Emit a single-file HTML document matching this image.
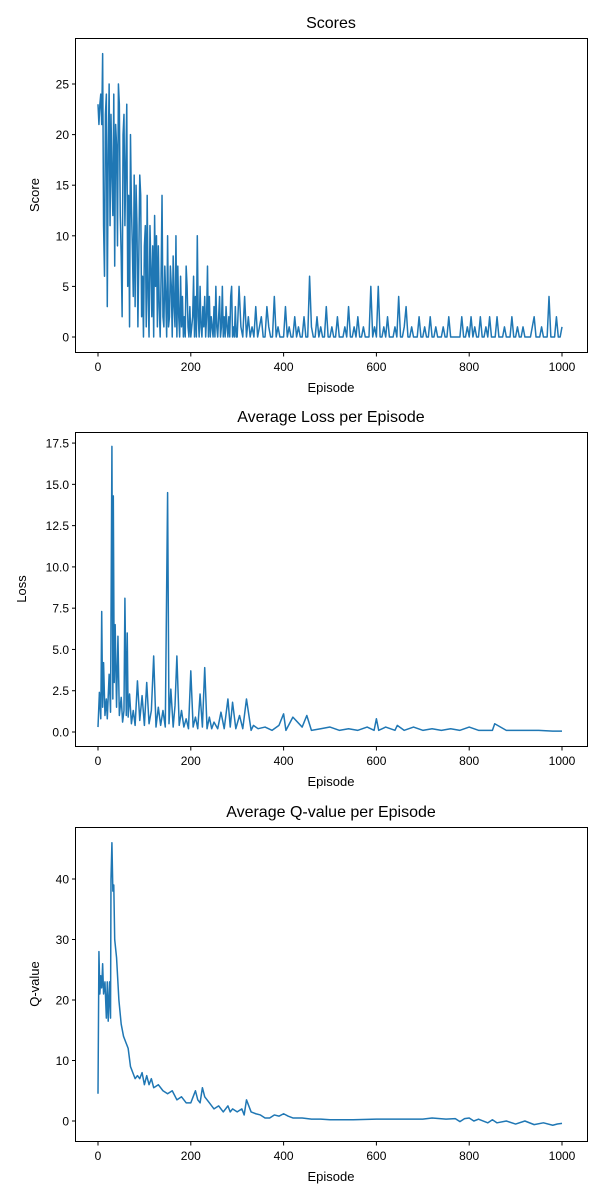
<!DOCTYPE html>
<html><head><meta charset="utf-8"><style>
body{margin:0;background:#fff;font-family:"Liberation Sans","DejaVu Sans",sans-serif}
svg{display:block}
</style></head><body>
<svg id="fig" width="600" height="1200" viewBox="0 0 600 1200" font-family="Liberation Sans, DejaVu Sans, sans-serif"></svg>
<script>
// ---- data ----
const earlyScores = [
23,21,23,24,21,28,11,6,22,24,3,18,25,11,22,16,12,24,7,21,19,9,25,23,12,
8,2,20,22,11,17,23,5,14,1,20,13,9,4,16,3,15,11,1,8,16,14,2,6,0,
9,11,1,14,4,0,11,7,2,9,0,12,5,10,1,9,3,0,6,14,2,1,7,4,0,
10,1,2,7,5,0,8,3,1,10,0,7,2,0,6,1,4,0,2,0,7,5,1,0,3,
0,1,2,6,0,4,0,10,2,0,5,1,0,3,1,4,0,2,7,0,4,0,2,1,0,
3,0,5,1,0,2,4,0,1,5,0,2,0,3,1,0,2,0,4,5,0,1,0,3,0];
const earlyStep = 2;
const lateScores = [
0,5,1,0,4,0,2,0,1,0,3,0,1,2,0,0,3,1,0,0,4,0,1,0,0,
0,3,0,1,0,0,2,0,1,0,0,2,0,0,6,1,0,0,2,0,1,0,0,3,0,
0,1,0,0,2,0,0,0,1,0,3,0,0,1,0,2,0,0,1,0,0,0,5,0,1,
0,5,0,0,1,0,2,0,0,0,1,0,4,0,0,1,3,0,0,1,0,0,0,2,0,
0,1,0,0,2,0,0,1,0,0,0,1,0,0,2,0,0,0,0,0,0,2,0,0,1,
0,2,0,1,0,0,2,0,0,1,0,2,0,0,0,2,0,0,0,1,0,0,0,2,0,
0,1,0,0,1,0,0,0,0,1,2,0,0,0,1,0,0,0,4,0,0,0,2,0,0,1];
const lateStart = 300, lateStep = 4;
const lossEpisodes = [0,3,6,8,10,12,15,18,20,24,27,30,32,33,35,37,40,43,46,50,53,56,58,61,63,65,68,72,76,80,85,90,95,100,105,110,115,120,125,130,135,140,145,150,153,157,162,166,170,175,180,185,190,195,200,205,210,215,220,225,230,235,240,245,250,258,265,272,280,285,290,297,305,312,320,330,335,345,360,375,390,400,405,420,440,450,460,480,500,520,540,560,580,595,600,605,620,640,645,660,680,700,720,740,760,780,800,820,850,855,880,900,920,950,980,1000];
const lossValues = [0.3,2.4,0.8,7.3,1.5,4.2,1.0,2.0,0.8,3.5,1.2,17.3,2.0,14.3,3.0,6.5,1.5,5.8,1.0,2.1,0.6,1.3,8.1,1.0,6.0,0.9,2.3,0.5,1.3,0.4,3.1,0.7,2.2,0.4,3.0,0.5,1.3,4.6,0.3,1.5,0.4,1.3,0.3,14.5,0.5,2.6,0.3,1.6,4.6,0.4,1.3,0.3,0.8,0.2,3.7,0.3,0.9,0.2,2.3,0.3,3.9,0.2,0.9,0.2,0.6,0.2,1.2,0.2,2.0,0.3,1.8,0.2,1.0,0.2,2.0,0.1,0.4,0.2,0.3,0.1,0.4,1.1,0.1,0.9,0.3,1.0,0.1,0.2,0.3,0.1,0.2,0.1,0.3,0.1,0.8,0.1,0.3,0.1,0.4,0.1,0.3,0.1,0.2,0.1,0.2,0.1,0.3,0.1,0.1,0.5,0.1,0.1,0.1,0.1,0.05,0.05];
const qEpisodes = [0,2,4,6,8,10,12,15,18,20,22,25,27,28,30,32,34,36,40,45,50,55,60,65,70,75,80,85,90,95,100,105,110,115,120,130,140,150,160,170,180,190,200,205,210,215,220,225,230,240,250,260,270,280,285,290,300,310,315,320,330,340,350,360,370,380,390,400,410,420,440,460,480,500,550,600,650,700,720,750,770,780,790,800,810,820,840,850,860,880,900,920,940,960,980,990,1000];
const qValues = [4.5,28,21,24,22,26,21,23,17,23,16.5,23,17,40,46,38,39,30,27,20,16,14,13,12,9,8,7,7.5,7,8,6,7.5,6,7,5.5,6,5,4.5,5,3.5,4,3,3,4,5,3.5,3,5.5,4,3,2,2.5,1.5,2.5,1.5,2,1.5,2,1,3.5,1.5,1.2,1,0.5,0.5,1,0.8,1.2,0.8,0.5,0.5,0.3,0.3,0.2,0.2,0.3,0.3,0.3,0.5,0.3,0.4,-0.1,0.4,0.5,0,0.3,-0.3,0.2,-0.3,0,-0.5,0,-0.6,-0.3,-0.7,-0.5,-0.4];
const xTicks = [0,200,400,600,800,1000];
const scoreTicks = [0,5,10,15,20,25];
const lossTicks = [0,2.5,5,7.5,10,12.5,15,17.5];
const lossTickLabels = ["0.0","2.5","5.0","7.5","10.0","12.5","15.0","17.5"];
const qTicks = [0,10,20,30,40];

const NS="http://www.w3.org/2000/svg";
const svg=document.getElementById('fig');
function el(tag,attrs,parent){const e=document.createElementNS(NS,tag);for(const k in attrs)e.setAttribute(k,attrs[k]);(parent||svg).appendChild(e);return e;}
const xScale=v=>98+v*0.464;

function panel(name,top,y0px,unitPx,yTicks,yLabels,title,ylabel,ylabelX,xs,ys){
  const g=el('g',{});
  
  
  const yScale=v=>y0px-v*unitPx;
  let d='';
  for(let i=0;i<ys.length;i++){d+=(i?'L':'M')+xScale(xs[i]).toFixed(2)+' '+yScale(ys[i]).toFixed(2);}
  const line=el('path',{d:d,fill:'none',stroke:'#1f77b4','stroke-width':1.5,'stroke-linejoin':'round'},g);
  
  
  const frame=el('rect',{x:75.5,y:top+0.5,width:512,height:314,fill:'none',stroke:'#000','stroke-width':1},g);
  
  
  xTicks.forEach(t=>{
    const x=xScale(t);
    el('line',{x1:x,x2:x,y1:top+315,y2:top+318.5,stroke:'#000'},g);
    const tx=el('text',{x:x,y:top+333,'font-size':12,'text-anchor':'middle'},g);
    tx.textContent=t;
    
    
  });
  yTicks.forEach((t,i)=>{
    const y=yScale(t);
    el('line',{x1:72,x2:75.5,y1:y,y2:y,stroke:'#000'},g);
    const ty=el('text',{x:69,y:y+4.5,'font-size':12,'text-anchor':'end'},g);
    ty.textContent=yLabels[i];
    
    
  });
  const tt=el('text',{x:331,y:top-10,'font-size':16,'text-anchor':'middle'},g);
  tt.textContent=title;
  
  
  const xl=el('text',{x:331,y:top+354,'font-size':13,'text-anchor':'middle'},g);
  xl.textContent='Episode';
  
  
  const yl=el('text',{x:ylabelX,y:top+157,'font-size':13,'text-anchor':'middle',transform:'rotate(-90 '+ylabelX+' '+(top+157)+')'},g);
  yl.textContent=ylabel;
  
  
}
const scoreEps=earlyScores.map((v,i)=>i*earlyStep).concat(lateScores.map((v,i)=>Math.min(lateStart+i*lateStep,1000)));
const scoreVals=earlyScores.concat(lateScores);
panel('scores',38,337,10.12,scoreTicks,scoreTicks.map(String),'Scores','Score',39,scoreEps,scoreVals);
panel('loss',432,732,16.51,lossTicks,lossTickLabels,'Average Loss per Episode','Loss',26,lossEpisodes,lossValues);
panel('qvalue',827,1121,6.05,qTicks,qTicks.map(String),'Average Q-value per Episode','Q-value',39,qEpisodes,qValues);
</script>
</body></html>
